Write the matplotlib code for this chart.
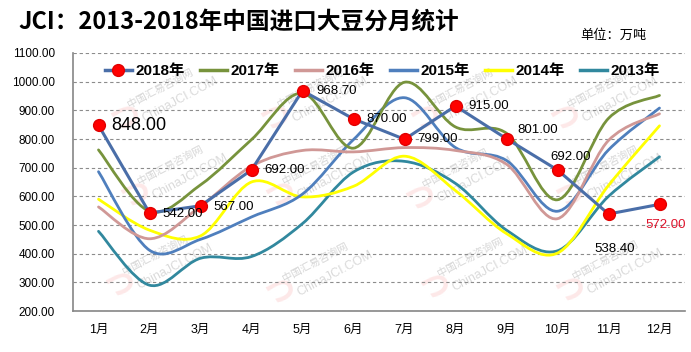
import matplotlib
matplotlib.use("Agg")
import matplotlib.pyplot as plt
from matplotlib.path import Path
from matplotlib.patches import PathPatch
from matplotlib.lines import Line2D

plt.rcParams['font.family'] = ['Liberation Sans', 'Noto Sans CJK SC']

months = ['1月', '2月', '3月', '4月', '5月', '6月', '7月', '8月', '9月', '10月', '11月', '12月']
y2018 = [848.0, 542.0, 567.0, 692.0, 968.7, 870.0, 799.0, 915.0, 801.0, 692.0, 538.4, 572.0]
y2017 = [762, 548, 640, 798, 960, 768, 998, 842, 820, 588, 872, 952]
y2016 = [563, 452, 565, 705, 760, 755, 770, 760, 712, 522, 795, 888]
y2015 = [686, 412, 450, 528, 608, 798, 944, 770, 725, 548, 762, 908]
y2014 = [590, 482, 462, 650, 598, 635, 740, 620, 470, 402, 638, 846]
y2013 = [478, 290, 384, 390, 505, 685, 722, 645, 482, 410, 600, 738]

smooth_series = [
    ('2017年', y2017, '#77933c'),
    ('2016年', y2016, '#d09896'),
    ('2015年', y2015, '#4f7fbd'),
    ('2014年', y2014, '#ffff00'),
    ('2013年', y2013, '#31889e'),
]
c2018 = '#4a6ea8'


def smooth_path(xs, ys, t=1/6):
    # excel-like smoothed line: cubic bezier through each point
    verts = [(xs[0], ys[0])]
    codes = [Path.MOVETO]
    n = len(xs)
    for i in range(n - 1):
        p0 = (xs[max(i - 1, 0)], ys[max(i - 1, 0)])
        p1 = (xs[i], ys[i])
        p2 = (xs[i + 1], ys[i + 1])
        p3 = (xs[min(i + 2, n - 1)], ys[min(i + 2, n - 1)])
        c1 = (p1[0] + (p2[0] - p0[0]) * t, p1[1] + (p2[1] - p0[1]) * t)
        c2 = (p2[0] - (p3[0] - p1[0]) * t, p2[1] - (p3[1] - p1[1]) * t)
        verts += [c1, c2, p2]
        codes += [Path.CURVE4] * 3
    return Path(verts, codes)


fig = plt.figure(figsize=(6.91, 3.52), dpi=100)
ax = fig.add_axes([73 / 691, 41 / 352, 612 / 691, 258 / 352])
ax.set_facecolor('none')

x = list(range(len(months)))

# watermarks
wm = [(160, 88), (310, 88), (460, 88), (600, 88),
      (170, 165), (315, 165), (455, 168), (605, 165),
      (155, 255), (315, 262), (470, 257), (605, 260)]
for px, py in wm:
    ax.text(px / 691, 1 - py / 352, '中国汇易咨询网', transform=fig.transFigure,
            rotation=28, fontsize=7.5, color='#d6d6d6', ha='center', va='center',
            family=['Noto Sans CJK SC'], zorder=0.5)
    ax.text((px + 20) / 691, 1 - (py + 12) / 352, 'ChinaJCI.COM', transform=fig.transFigure,
            rotation=28, fontsize=9, color='#dadada', ha='center', va='center', zorder=0.5)
    ax.text((px - 35) / 691, 1 - (py + 30) / 352, 'つ', transform=fig.transFigure,
            rotation=10, fontsize=22, color='#fde8e8', ha='center', va='center',
            family=['Noto Sans CJK SC'], fontweight='bold', zorder=0.4)

for name, ys, col in smooth_series[::-1]:
    ax.add_patch(PathPatch(smooth_path(x, ys), facecolor='none', edgecolor=col,
                           lw=2.0, zorder=2, capstyle='round'))

ax.plot(x, y2018, color=c2018, lw=2.2, marker='o', markersize=8.5,
        markerfacecolor='#ff0000', markeredgecolor='#e00000', zorder=3)

# data labels
offsets = [(9, 0, 13), (9, -1, 9.5), (9, -1, 9.5), (9, 0, 9.5), (10, 0, 9.5), (9, 0, 9.5),
           (9, 0, 9.5), (9, 0, 9.5), (8, 6, 9.5), (-5, 9, 9.5), (-10, -25, 9.5), (-10, -15, 9.5)]
for i, v in enumerate(y2018):
    dx, dy, fs = offsets[i]
    col = '#e0142c' if i == 11 else '#000000'
    ax.annotate(f'{v:.2f}', (x[i], v), xytext=(dx, dy), textcoords='offset points',
                ha='left', va='center', fontsize=fs, color=col, zorder=4)

ax.set_xlim(-0.5, 11.5)
ax.set_ylim(200, 1100)
ax.set_xticks(x)
ax.set_xticklabels(months, fontsize=9)
yt = list(range(200, 1101, 100))
ax.set_yticks(yt)
ax.set_yticklabels([f'{v:.2f}' for v in yt], fontsize=8.5)
ax.tick_params(axis='y', length=0, pad=13)
ax.tick_params(axis='x', length=0, pad=9)
ax.grid(axis='y', color='#8c8c8c', linestyle=(0, (3, 2.5)), lw=0.8, zorder=1)
ax.set_axisbelow(True)
for s in ['top', 'right']:
    ax.spines[s].set_visible(False)
for s in ['left', 'bottom']:
    ax.spines[s].set_color('#868686')
    ax.spines[s].set_linewidth(1.2)

handles = [Line2D([], [], color=c2018, lw=2.5, marker='o', markersize=8.5,
                  markerfacecolor='#ff0000', markeredgecolor='#e00000')]
labels = ['2018年']
for name, ys, col in smooth_series:
    handles.append(Line2D([], [], color=col, lw=2.5))
    labels.append(name)
ax.legend(handles, labels, loc='center', bbox_to_anchor=(0.505, 0.93), ncol=6,
          frameon=False, prop={'weight': 'bold', 'size': 11}, handlelength=1.8,
          handletextpad=0.2, columnspacing=1.0)

fig.text(18 / 691, 1 - 22 / 352, 'JCI：2013-2018年中国进口大豆分月统计', fontsize=17,
         fontweight='bold', family=['Noto Sans CJK SC'], ha='left', va='center')
fig.text(580 / 691, 1 - 35 / 352, '单位：万吨', fontsize=9.5,
         family=['Noto Sans CJK SC'], ha='left', va='center')

fig.savefig('out.png', dpi=100)
